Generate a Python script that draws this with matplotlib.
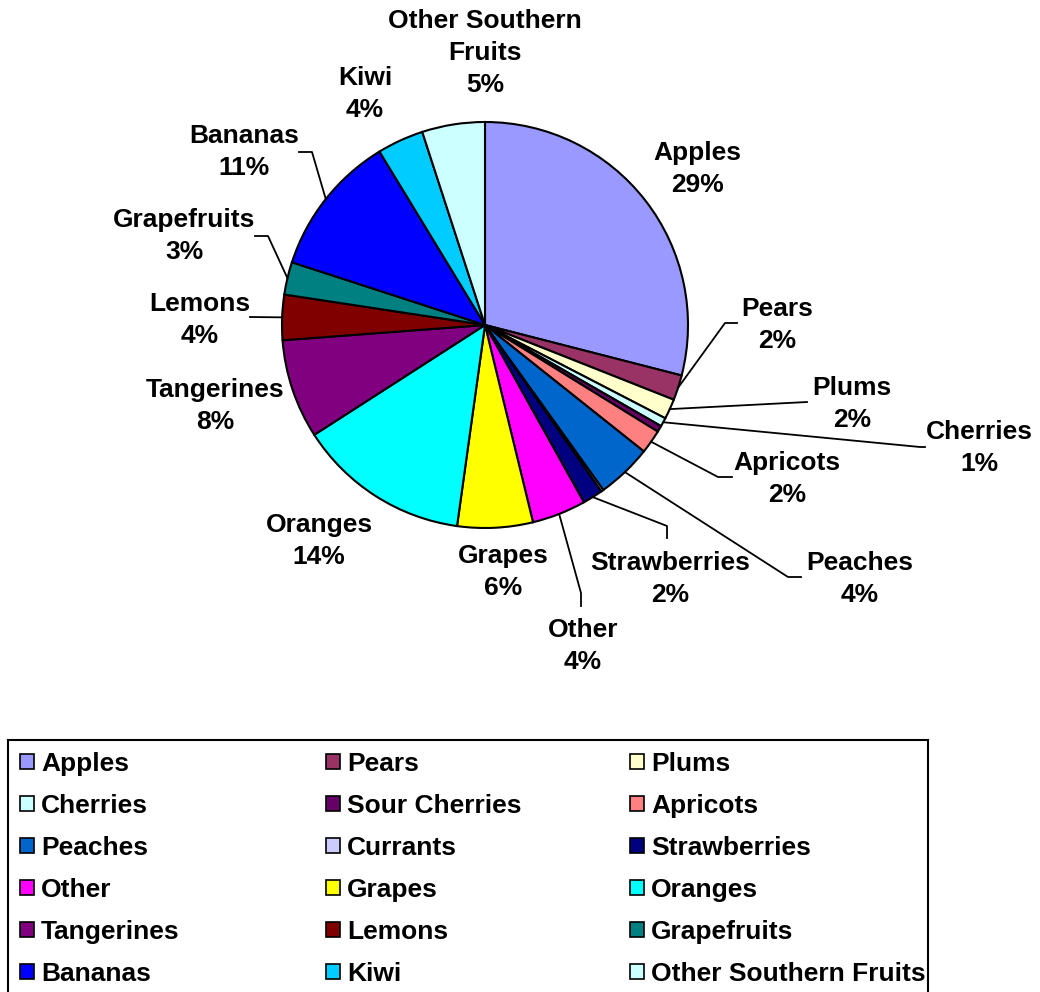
import matplotlib
matplotlib.use("Agg")
import matplotlib.pyplot as plt
from matplotlib.patches import Patch, Rectangle
import numpy as np

# share of fruit (percent), clockwise from 12 o'clock
fruits = ["Apples", "Pears", "Plums", "Cherries", "Sour Cherries", "Apricots",
          "Peaches", "Currants", "Strawberries", "Other", "Grapes", "Oranges",
          "Tangerines", "Lemons", "Grapefruits", "Bananas", "Kiwi",
          "Other Southern Fruits"]
shares = [29.0, 2.0, 1.6, 0.7, 0.5, 1.9,
          4.4, 0.2, 1.6, 4.3, 6.0, 13.7,
          7.9, 3.6, 2.6, 11.3, 3.7,
          5.0]
colors = ["#9999FF", "#993366", "#FFFFCC", "#CCFFFF", "#660066", "#FF8080",
          "#0066CC", "#CCCCFF", "#000080", "#FF00FF", "#FFFF00", "#00FFFF",
          "#800080", "#800000", "#008080", "#0000FF", "#00CCFF",
          "#CCFFFF"]

W, H = 1040, 992
CX, CY, R = 485, 325, 203   # pie centre / radius in pixels


def px(x, y):
    # pixel position -> pie data coords (radius 1)
    return ((x - CX) / R, (CY - y) / R)


# label placement (pixels) and leader line bends (pixels)
label_pos = {
    "Apples": (697, 169), "Pears": (777, 325), "Plums": (852, 404),
    "Cherries": (979, 448), "Apricots": (787, 479), "Peaches": (860, 579),
    "Strawberries": (670, 579), "Other": (583, 646), "Grapes": (503, 572),
    "Oranges": (319, 541), "Tangerines": (215, 406), "Lemons": (200, 320),
    "Grapefruits": (184, 236), "Bananas": (244, 152), "Kiwi": (365, 94),
    "Other Southern Fruits": (485, 53),
}
leaders = {
    "Pears": [(725, 323), (737, 323)],
    "Plums": [(807, 402)],
    "Cherries": [(920, 447), (925, 447)],
    "Apricots": [(718, 477), (732, 477)],
    "Peaches": [(788, 577), (801, 577)],
    "Strawberries": [(667, 526), (667, 538)],
    "Other": [(581, 593), (581, 606)],
    "Lemons": [(250, 317)],
    "Grapefruits": [(268, 236), (255, 236)],
    "Bananas": [(312, 152), (299, 152)],
}
names_wrapped = {"Other Southern Fruits": "Other Southern\nFruits"}

font = "Liberation Sans"
fs = 19

fig = plt.figure(figsize=(W / 100, H / 100), dpi=100)
ax = fig.add_axes([(CX - R) / W, 1 - (CY + R) / H, 2 * R / W, 2 * R / H])
wedges, _ = ax.pie(shares, colors=colors, startangle=90, counterclock=False,
                   radius=1, wedgeprops=dict(edgecolor="black", linewidth=1.5))
ax.set_xlim(-1, 1)
ax.set_ylim(-1, 1)
ax.set_aspect("equal")
ax.axis("off")

total = sum(shares)
for w, name, val in zip(wedges, fruits, shares):
    if name not in label_pos:
        continue
    pct = round(val / total * 100)
    tx, ty = px(*label_pos[name])
    ax.text(tx, ty, f"{names_wrapped.get(name, name)}\n{pct}%", ha="center",
            va="center", fontsize=fs, fontweight="bold", family=font,
            linespacing=1.42, clip_on=False)
    if name in leaders:
        mid = np.deg2rad((w.theta1 + w.theta2) / 2)
        xs = [np.cos(mid)] + [px(*p)[0] for p in leaders[name]]
        ys = [np.sin(mid)] + [px(*p)[1] for p in leaders[name]]
        ax.plot(xs, ys, color="black", lw=1.3, clip_on=False)

# legend: three columns, filled row by row
handles = [Patch(facecolor=c, edgecolor="black", linewidth=1.2) for c in colors]
col_x = [20, 326, 630]
for c in range(3):
    fig.legend(handles[c::3], fruits[c::3], loc="upper left",
               bbox_to_anchor=(col_x[c] / W, 1 - 752 / H), frameon=False,
               prop=dict(family=font, weight="bold", size=fs),
               handlelength=0.52, handleheight=0.52, handletextpad=0.28,
               labelspacing=0.68, borderpad=0.0, borderaxespad=0.0)
fig.patches.append(Rectangle((8 / W, -0.01), (928 - 8) / W, 0.01 + 1 - 740 / H,
                             transform=fig.transFigure, fill=False,
                             edgecolor="black", linewidth=1.5))

fig.savefig("out.png", dpi=100)
